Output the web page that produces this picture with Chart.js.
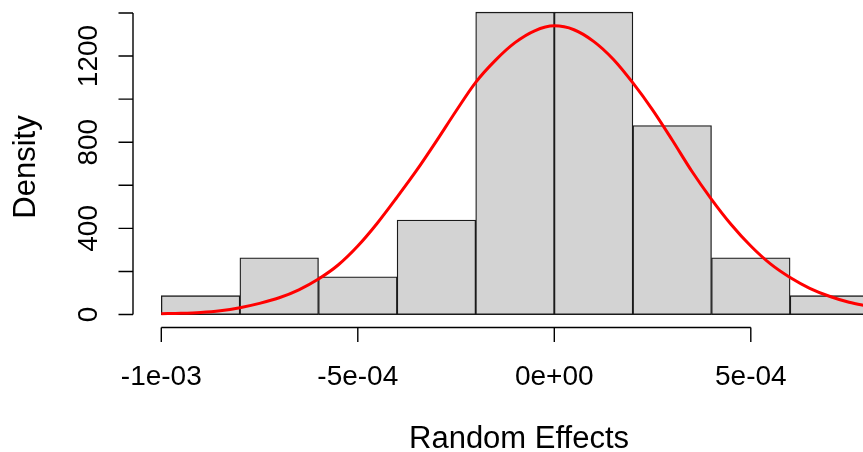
<!DOCTYPE html>
<html>
<head>
<meta charset="utf-8">
<script src="https://cdn.jsdelivr.net/npm/chart.js@4.4.1/dist/chart.umd.min.js"></script>
<style>
  html, body { margin: 0; padding: 0; background: #ffffff; }
  canvas { display: block; }
</style>
</head>
<body>
<canvas id="c" width="863" height="452" style="width:863px;height:452px"></canvas>
<script>
// ---- Histogram data (density per bin, bin width 2e-4) ----
const binCenters = [-9e-4, -7e-4, -5e-4, -3e-4, -1e-4, 1e-4, 3e-4, 5e-4, 7e-4];
const binDensity = [87.7, 263.2, 175.4, 438.6, 1403.5, 1403.5, 877.2, 263.2, 87.7];

// ---- Fitted curve ----
const curveX = [-1.0e-3, -9.5e-4, -9.0e-4, -8.5e-4, -8.0e-4, -7.5e-4, -7.0e-4, -6.5e-4, -6.0e-4, -5.5e-4,
  -5.0e-4, -4.5e-4, -4.0e-4, -3.5e-4, -3.0e-4, -2.5e-4, -2.0e-4, -1.5e-4, -1.0e-4, -0.5e-4,
  0.0, 0.5e-4, 1.0e-4, 1.5e-4, 2.0e-4, 2.5e-4, 3.0e-4, 3.5e-4, 4.0e-4,
  4.5e-4, 5.0e-4, 5.5e-4, 6.0e-4, 6.5e-4, 7.0e-4, 7.5e-4, 8.0e-4];
const curveY = [4, 6, 10, 18, 32, 52, 78, 115, 165, 230,
  318, 425, 545, 670, 805, 945, 1078, 1180, 1262, 1317,
  1340, 1322, 1268, 1185, 1075, 950, 810, 665, 535,
  418, 318, 235, 172, 122, 85, 57, 38];

// ---- Axis ticks ----
const xTickValues = [-1e-3, -5e-4, 0, 5e-4];
const xTickLabels = ['-1e-03', '-5e-04', '0e+00', '5e-04'];
const yTickValues = [0, 200, 400, 600, 800, 1000, 1200, 1400];
const yTickLabels = ['0', '', '400', '', '800', '', '1200', ''];
const xTitle = 'Random Effects';
const yTitle = 'Density';

const FONT = '"Liberation Sans", Arial, Helvetica, sans-serif';

const rAxes = {
  id: 'rAxes',
  afterDraw(chart) {
    const ctx = chart.ctx;
    const xs = chart.scales.x, ys = chart.scales.y;
    const area = chart.chartArea;
    ctx.save();
    ctx.strokeStyle = '#000';
    ctx.fillStyle = '#000';
    ctx.lineWidth = 1.4;
    const tick = 14.5;

    // y axis
    const yl = area.left;
    ctx.beginPath();
    ctx.moveTo(yl, ys.getPixelForValue(yTickValues[0]));
    ctx.lineTo(yl, ys.getPixelForValue(yTickValues[yTickValues.length - 1]));
    yTickValues.forEach(v => {
      const p = ys.getPixelForValue(v);
      ctx.moveTo(yl, p);
      ctx.lineTo(yl - tick, p);
    });
    ctx.stroke();
    ctx.font = '28px ' + FONT;
    ctx.textAlign = 'center';
    ctx.textBaseline = 'alphabetic';
    yTickValues.forEach((v, i) => {
      if (!yTickLabels[i]) return;
      const p = ys.getPixelForValue(v);
      ctx.save();
      ctx.translate(97, p);
      ctx.rotate(-Math.PI / 2);
      ctx.fillText(yTickLabels[i], 0, 0);
      ctx.restore();
    });

    // x axis
    const xb = area.bottom;
    ctx.beginPath();
    ctx.moveTo(xs.getPixelForValue(xTickValues[0]), xb);
    ctx.lineTo(xs.getPixelForValue(xTickValues[xTickValues.length - 1]), xb);
    xTickValues.forEach(v => {
      const p = xs.getPixelForValue(v);
      ctx.moveTo(p, xb);
      ctx.lineTo(p, xb + tick);
    });
    ctx.stroke();
    xTickValues.forEach((v, i) => {
      const p = xs.getPixelForValue(v);
      ctx.fillText(xTickLabels[i], p, 385);
    });

    // titles
    ctx.font = '31px ' + FONT;
    ctx.fillText(xTitle, 519, 448);
    ctx.save();
    ctx.translate(35, 167);
    ctx.rotate(-Math.PI / 2);
    ctx.fillText(yTitle, 0, 0);
    ctx.restore();
    ctx.restore();
  }
};

new Chart(document.getElementById('c'), {
  data: {
    datasets: [
      {
        type: 'line',
        label: 'curve',
        data: curveX.map((x, i) => ({ x: x, y: curveY[i] })),
        borderColor: '#ff0000',
        borderWidth: 3,
        pointRadius: 0,
        fill: false,
        cubicInterpolationMode: 'monotone',
        order: 0
      },
      {
        type: 'bar',
        label: 'hist',
        data: binCenters.map((x, i) => ({ x: x, y: binDensity[i] })),
        backgroundColor: '#d3d3d3',
        borderColor: '#1a1a1a',
        borderWidth: 1.3,
        borderSkipped: false,
        barPercentage: 1,
        categoryPercentage: 1,
        grouped: false,
        order: 1
      }
    ]
  },
  options: {
    responsive: false,
    devicePixelRatio: 1,
    animation: false,
    layout: { padding: { left: 0, right: 0, top: 0, bottom: 0 } },
    plugins: { legend: { display: false }, tooltip: { enabled: false } },
    scales: {
      x: {
        type: 'linear',
        min: -1.072e-3,
        max: 7.855e-4,
        offset: false,
        grid: { display: false },
        border: { display: false },
        ticks: { display: false },
        afterFit(s) { s.height = 452 - 327.5; }
      },
      y: {
        type: 'linear',
        min: -60,
        max: 1460,
        grid: { display: false },
        border: { display: false },
        ticks: { display: false },
        afterFit(s) { s.width = 133; }
      }
    }
  },
  plugins: [rAxes]
});
</script>
</body>
</html>
